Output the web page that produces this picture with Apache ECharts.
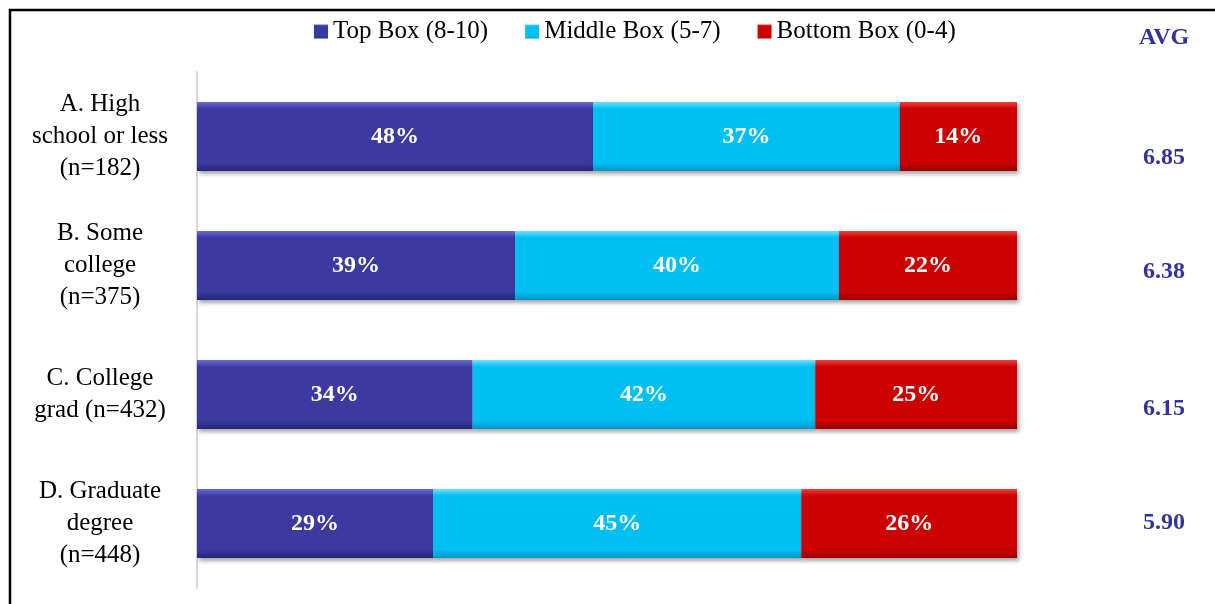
<!DOCTYPE html>
<html><head><meta charset="utf-8">
<script src="https://cdn.jsdelivr.net/npm/echarts@6/dist/echarts.min.js"></script>
<style>html,body{margin:0;padding:0;background:#fff}#c{width:1215px;height:604px}</style>
</head><body><div id="c"></div>
<script>
const categories = ["A. High\nschool or less\n(n=182)", "B. Some\ncollege\n(n=375)", "C. College\ngrad (n=432)", "D. Graduate\ndegree\n(n=448)"];
const topBox = [48.3, 38.8, 33.6, 28.8];
const middleBox = [37.4, 39.5, 41.8, 44.9];
const bottomBox = [14.3, 21.7, 24.6, 26.3];
const avgValues = ["6.85", "6.38", "6.15", "5.90"];
const seriesNames = ["Top Box (8-10)", "Middle Box (5-7)", "Bottom Box (0-4)"];

const FONT = "'Liberation Serif', serif";
function grad(light, base, dark) {
  return new echarts.graphic.LinearGradient(0, 0, 0, 1, [
    {offset: 0, color: light}, {offset: 0.1, color: base},
    {offset: 0.88, color: base}, {offset: 1, color: dark}]);
}
const styles = [
  grad('#6a6ad0', '#3a3a9f', '#25257a'),
  grad('#6fe0ff', '#00bff3', '#0095c4'),
  grad('#f04040', '#cc0000', '#990000')
];
const chart = echarts.init(document.getElementById('c'));
function mk(name, data, i) {
  return {
    name, type: 'bar', stack: 'all', data, barWidth: 69,
    itemStyle: {color: styles[i], shadowColor: 'rgba(0,0,0,0.35)', shadowBlur: 4, shadowOffsetX: 2, shadowOffsetY: 3},
    label: {show: true, position: 'inside', formatter: p => Math.round(p.value) + '%',
      color: '#fff', fontFamily: FONT, fontWeight: 'bold', fontSize: 24}
  };
}
const offs = [{padding:[42,0,0,0]},{padding:[12,0,0,0]},{padding:[28,0,0,0]},{padding:[0,0,2,0]}];
const rich = {};
offs.forEach((o,i)=>{rich['r'+i] = Object.assign({fontFamily: FONT, fontWeight:'bold', fontSize: 24, color:'#333399'}, o);});
chart.setOption({
  animation: false,
  legend: {top: 14, left: 309, itemWidth: 14, itemHeight: 14, itemGap: 37,
    icon: 'rect', textStyle: {fontFamily: FONT, fontSize: 25, color: '#000'}, data: seriesNames},
  grid: {left: 197, right: 198, top: 72, bottom: 16},
  xAxis: {type: 'value', min: 0, max: 100, show: false},
  yAxis: [
    {type: 'category', data: categories, inverse: true,
     axisLine: {show: true, lineStyle: {color: '#d9d9d9', width: 2}}, axisTick: {show: false},
     axisLabel: {margin: 97, align: 'center', fontFamily: FONT, fontSize: 25, lineHeight: 32, color: '#000'}},
    {type: 'category', data: categories, inverse: true, position: 'right',
     axisLine: {show: false}, axisTick: {show: false},
     axisLabel: {margin: 126, align: 'left', formatter: (v, i) => '{r' + i + '|' + avgValues[i] + '}', rich}}
  ],
  graphic: [
    {type: 'rect', shape: {x: 10, y: 10, width: 1300, height: 700}, style: {fill: 'none', stroke: '#000', lineWidth: 2.5}},
    {type: 'text', left: 1139, top: 26, style: {text: 'AVG', fontFamily: FONT, fontWeight: 'bold', fontSize: 24, fill: '#333399'}}
  ],
  series: [mk(seriesNames[0], topBox, 0), mk(seriesNames[1], middleBox, 1), mk(seriesNames[2], bottomBox, 2)]
});
</script></body></html>
